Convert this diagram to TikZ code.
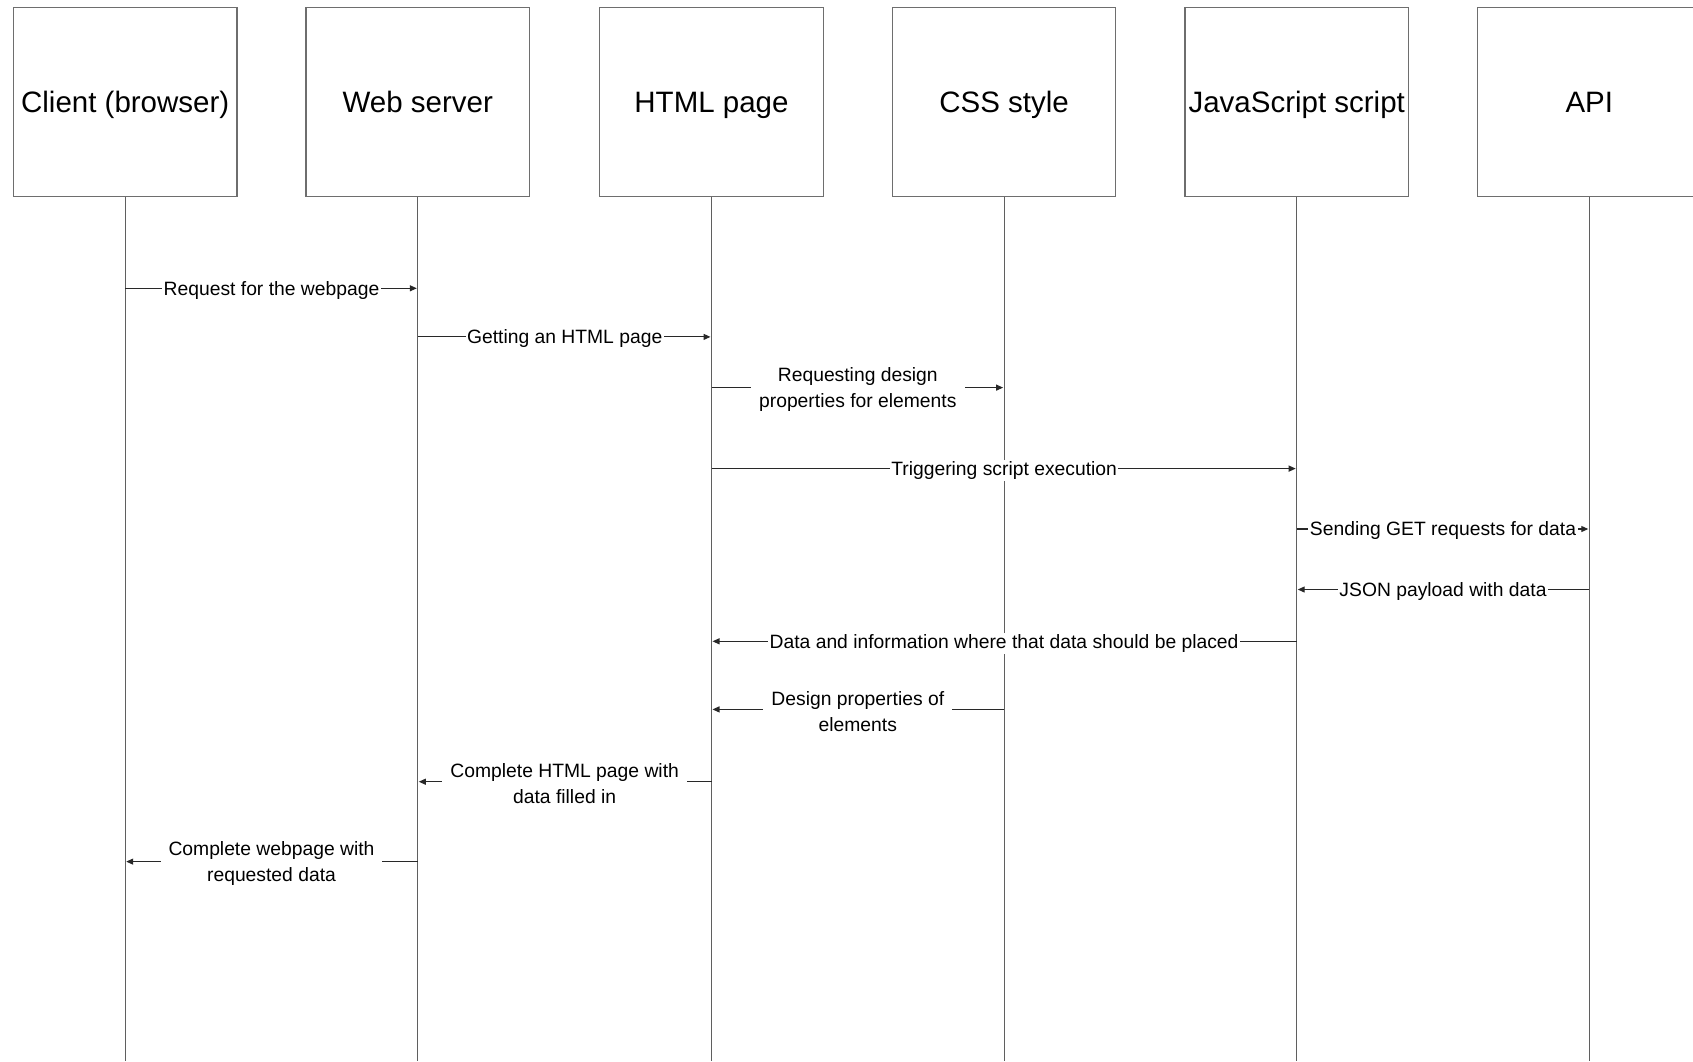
\documentclass[tikz,border=0pt]{standalone}
\usepackage{fontspec}
\setmainfont{Liberation Sans}
\usetikzlibrary{arrows.meta}
\definecolor{boxc}{RGB}{110,110,110}
\definecolor{lifec}{RGB}{95,95,95}
\definecolor{msgc}{RGB}{40,40,40}
\begin{document}
\begin{tikzpicture}[x=1pt,y=-1pt,
  actor/.style={draw=boxc, line width=1.2pt, minimum width=223.5pt, minimum height=189pt, inner sep=0pt, text height=24.3pt, text depth=2.7pt, font=\fontsize{29.5}{35}\selectfont, text=black},
  life/.style={draw=lifec, line width=1.1pt},
  msg/.style={draw=msgc, line width=1.1pt, -{Triangle[length=7pt,width=6pt]}, shorten >=1pt},
  lbl/.style={fill=white, inner sep=1.5pt, yshift=-1.8pt, font=\fontsize{19.3}{25.9}\selectfont, align=center, text=black}
]
\useasboundingbox (0,0) rectangle (1693,1061);
\clip (0,0) rectangle (1693,1061);
\fill[white] (0,0) rectangle (1693,1061);

% actors
\node[actor] (client) at (125.2,102) {Client (browser)};
\node[actor] (web)    at (417.8,102) {Web server};
\node[actor] (html)   at (711.5,102) {HTML page};
\node[actor] (css)    at (1004.1,102) {CSS style};
\node[actor] (js)     at (1296.7,102) {JavaScript script};
\node[actor] (api)    at (1589.3,102) {API};

% lifeline ends
\coordinate (bot) at (0,1061);
\foreach \n in {client,web,html,css,js,api}{
  \draw[life] (\n.south) -- (\n.south |- bot);
}

% message levels
\coordinate (m1) at (0,288.3);
\coordinate (m2) at (0,336.9);
\coordinate (m3) at (0,387.6);
\coordinate (m4) at (0,468.6);
\coordinate (m5) at (0,529.0);
\coordinate (m6) at (0,589.5);
\coordinate (m7) at (0,641.3);
\coordinate (m8) at (0,709.4);
\coordinate (m9) at (0,781.7);
\coordinate (m10) at (0,861.6);

\draw[msg] (client.south |- m1) -- node[lbl]{Request for the webpage} (web.south |- m1);
\draw[msg] (web.south |- m2) -- node[lbl]{Getting an HTML page} (html.south |- m2);
\draw[msg] (html.south |- m3) -- node[lbl, inner xsep=8pt]{Requesting design\\properties for elements} (css.south |- m3);
\draw[msg] (html.south |- m4) -- node[lbl]{Triggering script execution} (js.south |- m4);
\draw[msg] (js.south |- m5) -- node[lbl]{Sending GET requests for data} (api.south |- m5);
\draw[msg] (api.south |- m6) -- node[lbl]{JSON payload with data} (js.south |- m6);
\draw[msg] (js.south |- m7) -- node[lbl]{Data and information where that data should be placed} (html.south |- m7);
\draw[msg] (css.south |- m8) -- node[lbl, inner xsep=8pt]{Design properties of\\elements} (html.south |- m8);
\draw[msg] (html.south |- m9) -- node[lbl, inner xsep=8pt]{Complete HTML page with\\data filled in} (web.south |- m9);
\draw[msg] (web.south |- m10) -- node[lbl, inner xsep=8pt]{Complete webpage with\\requested data} (client.south |- m10);
\end{tikzpicture}
\end{document}
